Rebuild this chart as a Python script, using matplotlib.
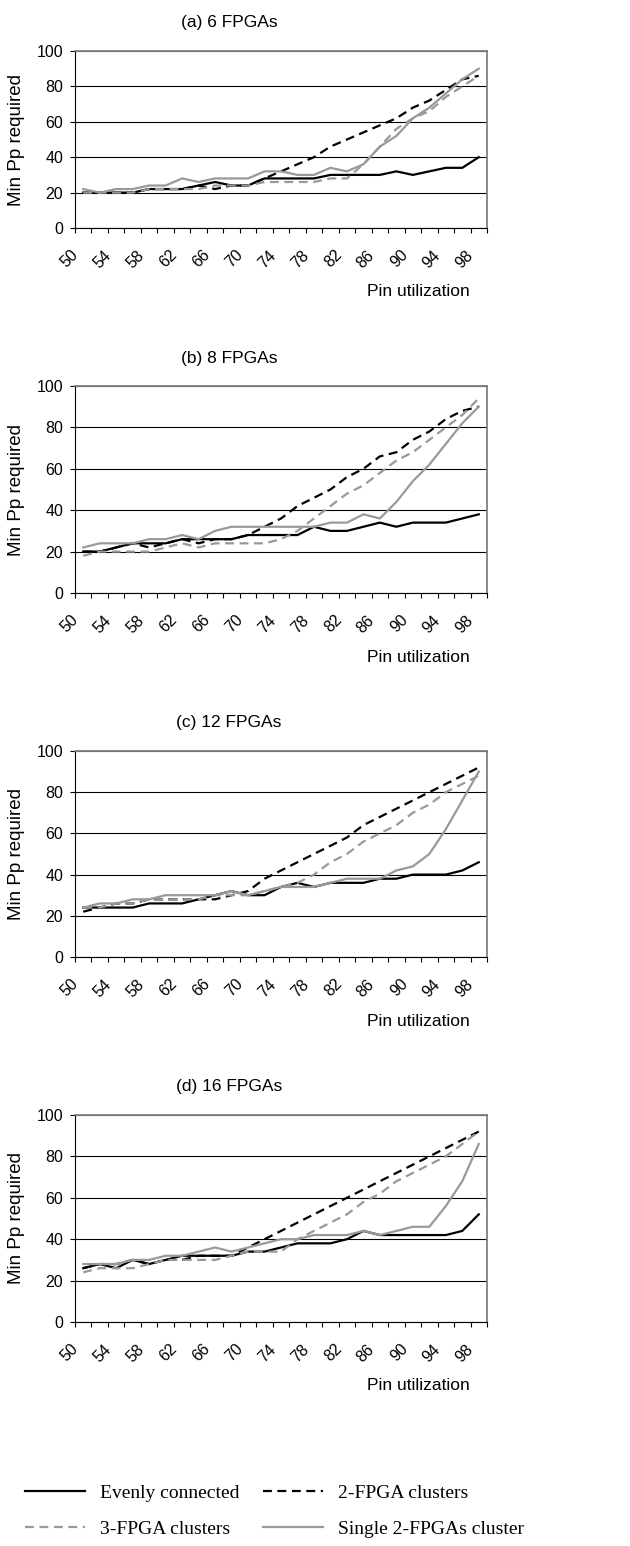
import numpy as np
import matplotlib
matplotlib.use('Agg')
from matplotlib import pyplot as plt
from matplotlib.transforms import ScaledTranslation

# figure size in pixels (dpi 100)
W, H = 630, 1546
plt.rc('font', family='Liberation Sans')

# pin utilization categories
util = [50, 52, 54, 56, 58, 60, 62, 64, 66, 68, 70, 72, 74, 76, 78, 80, 82, 84, 86, 88, 90, 92, 94, 96, 98]
tick_labels = ['50', '54', '58', '62', '66', '70', '74', '78', '82', '86', '90', '94', '98']

# (a) 6 FPGAs
even_a = [20, 20, 20, 20, 22, 22, 22, 24, 26, 24, 24, 28, 28, 28, 28, 30, 30, 30, 30, 32, 30, 32, 34, 34, 40]
two_a = [20, 20, 20, 20, 22, 22, 22, 24, 22, 24, 24, 28, 32, 36, 40, 46, 50, 54, 58, 62, 68, 72, 78, 84, 86]
three_a = [20, 20, 20, 20, 22, 22, 22, 22, 24, 24, 24, 26, 26, 26, 26, 28, 28, 36, 46, 56, 62, 66, 74, 80, 86]
single_a = [22, 20, 22, 22, 24, 24, 28, 26, 28, 28, 28, 32, 32, 30, 30, 34, 32, 36, 46, 52, 62, 68, 76, 84, 90]

# (b) 8 FPGAs
even_b = [20, 20, 22, 24, 24, 24, 26, 26, 26, 26, 28, 28, 28, 28, 32, 30, 30, 32, 34, 32, 34, 34, 34, 36, 38]
two_b = [20, 20, 22, 24, 22, 24, 26, 24, 26, 26, 28, 32, 36, 42, 46, 50, 56, 60, 66, 68, 74, 78, 84, 88, 90]
three_b = [18, 20, 20, 20, 20, 22, 24, 22, 24, 24, 24, 24, 26, 30, 36, 42, 48, 52, 58, 64, 68, 74, 80, 86, 94]
single_b = [22, 24, 24, 24, 26, 26, 28, 26, 30, 32, 32, 32, 32, 32, 32, 34, 34, 38, 36, 44, 54, 62, 72, 82, 90]

# (c) 12 FPGAs
even_c = [24, 24, 24, 24, 26, 26, 26, 28, 30, 32, 30, 30, 34, 36, 34, 36, 36, 36, 38, 38, 40, 40, 40, 42, 46]
two_c = [22, 24, 26, 26, 28, 28, 28, 28, 28, 30, 32, 38, 42, 46, 50, 54, 58, 64, 68, 72, 76, 80, 84, 88, 92]
three_c = [24, 24, 26, 26, 28, 28, 28, 28, 30, 30, 30, 32, 34, 36, 40, 46, 50, 56, 60, 64, 70, 74, 80, 84, 88]
single_c = [24, 26, 26, 28, 28, 30, 30, 30, 30, 32, 30, 32, 34, 34, 34, 36, 38, 38, 38, 42, 44, 50, 62, 76, 90]

# (d) 16 FPGAs
even_d = [26, 28, 26, 30, 28, 30, 32, 32, 32, 32, 34, 34, 36, 38, 38, 38, 40, 44, 42, 42, 42, 42, 42, 44, 52]
two_d = [26, 28, 28, 30, 28, 30, 30, 32, 32, 32, 36, 40, 44, 48, 52, 56, 60, 64, 68, 72, 76, 80, 84, 88, 92]
three_d = [24, 26, 26, 26, 28, 30, 30, 30, 30, 32, 34, 34, 34, 40, 44, 48, 52, 58, 62, 68, 72, 76, 80, 86, 92]
single_d = [28, 28, 28, 30, 30, 32, 32, 34, 36, 34, 36, 38, 40, 40, 42, 42, 42, 44, 42, 44, 46, 46, 56, 68, 86]

titles = ['(a) 6 FPGAs', '(b) 8 FPGAs', '(c) 12 FPGAs', '(d) 16 FPGAs']
series = [(even_a, two_a, three_a, single_a),
          (even_b, two_b, three_b, single_b),
          (even_c, two_c, three_c, single_c),
          (even_d, two_d, three_d, single_d)]
# top / bottom of each plot area, pixels from the top
boxes = [(51, 228), (386, 593), (751, 957), (1115, 1322)]

GRAY = '#999999'
DASH = (0, (4, 2.5))

fig = plt.figure(figsize=(W / 100, H / 100), dpi=100)
for title, (even, two, three, single), (top, bot) in zip(titles, series, boxes):
    ax = fig.add_axes([75 / W, 1 - bot / H, 412 / W, (bot - top) / H])
    h1, = ax.plot(util, even, color='black', lw=1.6, label='Evenly connected')
    h2, = ax.plot(util, two, color='black', lw=1.6, ls=DASH, label='2-FPGA clusters')
    h3, = ax.plot(util, three, color=GRAY, lw=1.6, ls=DASH, label='3-FPGA clusters')
    h4, = ax.plot(util, single, color=GRAY, lw=1.6, label='Single 2-FPGAs cluster')

    ax.set_xlim(49, 99)
    ax.set_ylim(0, 100)
    ax.set_yticks([0, 20, 40, 60, 80, 100])
    ax.set_xticks(np.arange(49, 100, 2))
    ax.set_xticklabels([])
    ax.set_xticks(util[::2], minor=True)
    ax.set_xticklabels(tick_labels, minor=True, rotation=45, ha='right', va='top',
                       rotation_mode='anchor', fontsize=11.5)
    ax.tick_params(axis='x', which='minor', length=0, pad=14)
    ax.tick_params(axis='both', which='major', direction='out', length=3.6, width=0.8,
                   labelsize=11.5)
    ax.tick_params(axis='y', pad=5)
    for lab in ax.get_xticklabels(minor=True):
        lab.set_transform(lab.get_transform() + ScaledTranslation(-0.13, 0, fig.dpi_scale_trans))

    ax.set_axisbelow(True)
    ax.yaxis.grid(True, color='black', lw=0.8)
    for s in ['left', 'bottom']:
        ax.spines[s].set_linewidth(0.8)
    for s in ['top', 'right']:
        ax.spines[s].set_color('#808080')
        ax.spines[s].set_linewidth(1.3)

    fig.text(229 / W, 1 - (top - 28) / H, title, ha='center', va='center', fontsize=12.5)
    fig.text(17 / W, 1 - (top + bot) / 2 / H, 'Min Pp required', rotation=90,
             ha='center', va='center', fontsize=13.5)
    fig.text(470 / W, 1 - (bot + 64) / H, 'Pin utilization', ha='right', va='center', fontsize=12.5)

fig.legend(handles=[h1, h3, h2, h4], ncol=2, loc='upper left',
           bbox_to_anchor=(25 / W, 1 - 1484 / H), frameon=False,
           prop={'family': 'Liberation Serif', 'size': 14},
           handlelength=3.1, handletextpad=0.77, columnspacing=1.2,
           labelspacing=0.95, borderaxespad=0, borderpad=0)

plt.savefig('out.png', dpi=100)
